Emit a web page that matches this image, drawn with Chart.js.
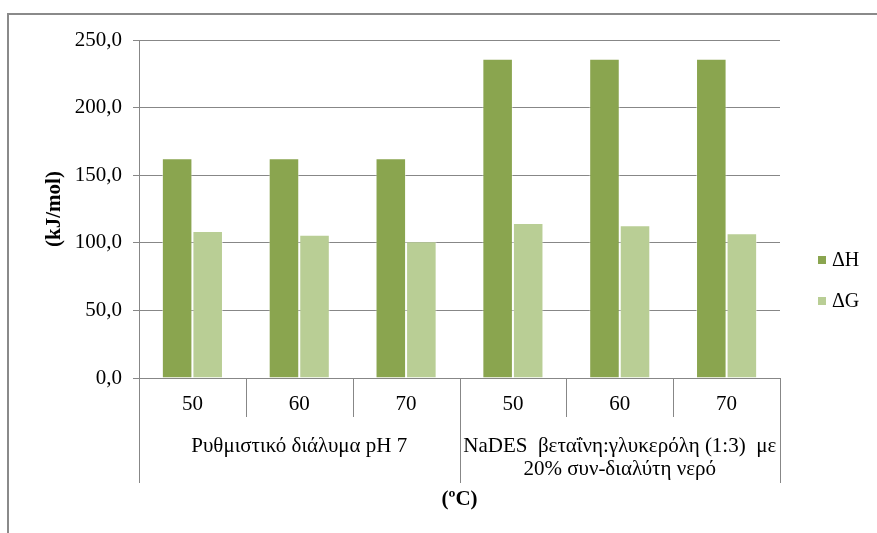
<!DOCTYPE html>
<html>
<head>
<meta charset="utf-8">
<script src="https://cdn.jsdelivr.net/npm/chart.js@4/dist/chart.umd.min.js"></script>
<style>
  html, body { margin: 0; padding: 0; background: #fff; }
  #wrap { width: 877px; height: 533px; }
</style>
</head>
<body>
<div id="wrap"><canvas id="chart" width="877" height="533"></canvas></div>
<script>
// ── Data ──────────────────────────────────────────────────────────────────
const categories  = ['50', '60', '70', '50', '60', '70'];
const groupSizes  = [3, 3];
const groupLabels = [
    ['Ρυθμιστικό διάλυμα pH 7'],
    ['NaDES  βεταΐνη:γλυκερόλη (1:3)  με', '20% συν-διαλύτη νερό']
];
const deltaH = [162.5, 162.5, 162.5, 236.2, 236.2, 236.2];
const deltaG = [108.7, 106.0, 101.1, 114.6, 112.9, 107.0];
const seriesNames = ['ΔH', 'ΔG'];
const yTitle = '(kJ/mol)';
const xTitle = '(ºC)';

const SERIF = '"Liberation Serif", "Times New Roman", serif';
const GRID  = '#878787';

// multi-level category axis, legend and outer frame
const excelBits = {
    id: 'excelBits',
    afterDraw(chart) {
        const { ctx, chartArea, scales } = chart;
        const x = scales.x;
        const half = (x.getPixelForValue(1) - x.getPixelForValue(0)) / 2;
        const bottom = chartArea.bottom;

        ctx.save();
        ctx.strokeStyle = GRID;
        ctx.lineWidth = 1;

        // category dividers (short between temps, long between groups)
        const groupEdges = [0];
        groupSizes.forEach(n => groupEdges.push(groupEdges[groupEdges.length - 1] + n));
        for (let i = 0; i <= categories.length; i++) {
            const px = Math.round(x.getPixelForValue(i) - half) + 0.5;
            const len = groupEdges.includes(i) ? 105 : 39;
            ctx.beginPath();
            ctx.moveTo(px, bottom);
            ctx.lineTo(px, bottom + len);
            ctx.stroke();
        }

        // group labels
        ctx.fillStyle = '#000';
        ctx.font = '21px ' + SERIF;
        ctx.textAlign = 'center';
        ctx.textBaseline = 'middle';
        groupLabels.forEach((lines, g) => {
            const a = groupEdges[g], b = groupEdges[g + 1] - 1;
            const cx = (x.getPixelForValue(a) + x.getPixelForValue(b)) / 2;
            lines.forEach((t, k) => ctx.fillText(t, cx, bottom + 68 + k * 23));
        });

        // x axis title
        ctx.font = 'bold 21px ' + SERIF;
        ctx.fillText(xTitle, (chartArea.left + chartArea.right) / 2, bottom + 122);

        // legend
        ctx.font = '20px ' + SERIF;
        ctx.textAlign = 'left';
        chart.data.datasets.forEach((ds, i) => {
            const ly = 260 + i * 41;
            ctx.fillStyle = ds.backgroundColor;
            ctx.fillRect(818, ly - 4, 8, 8);
            ctx.fillStyle = '#000';
            ctx.fillText(ds.label, 832, ly + 1);
        });

        // outer frame
        ctx.strokeStyle = '#8a8a8a';
        ctx.lineWidth = 2;
        ctx.strokeRect(8, 14, 900, 600);
        ctx.restore();
    }
};

new Chart(document.getElementById('chart'), {
    type: 'bar',
    data: {
        labels: categories,
        datasets: [
            {
                label: seriesNames[0],
                data: deltaH,
                backgroundColor: '#8aa54f',
                borderColor: 'rgba(255,255,255,0.45)',
                borderWidth: 1,
                categoryPercentage: 0.572,
                barPercentage: 1.0
            },
            {
                label: seriesNames[1],
                data: deltaG,
                backgroundColor: '#b9ce95',
                borderColor: 'rgba(255,255,255,0.45)',
                borderWidth: 1,
                categoryPercentage: 0.572,
                barPercentage: 1.0
            }
        ]
    },
    options: {
        responsive: false,
        animation: false,
        layout: { padding: { left: 0, top: 40, right: 97, bottom: 0 } },
        plugins: {
            legend:  { display: false },
            tooltip: { enabled: false }
        },
        scales: {
            x: {
                grid:   { display: false, drawTicks: false },
                border: { display: false },
                ticks:  { color: '#000', font: { family: SERIF, size: 21 }, padding: 14, maxRotation: 0 },
                afterFit: s => { s.height = 155; }
            },
            y: {
                min: 0,
                max: 250,
                ticks: {
                    stepSize: 50,
                    color: '#000',
                    padding: 11,
                    font: { family: SERIF, size: 21 },
                    callback: v => v.toFixed(1).replace('.', ',')
                },
                grid:   { color: GRID, tickLength: 6 },
                border: { display: true, color: GRID },
                title: {
                    display: true,
                    text: yTitle,
                    color: '#000',
                    font: { family: SERIF, size: 21, weight: 'bold' },
                    padding: { top: 42, bottom: 0 }
                },
                afterFit: s => { s.width = 139; }
            }
        }
    },
    plugins: [excelBits]
});
</script>
</body>
</html>
